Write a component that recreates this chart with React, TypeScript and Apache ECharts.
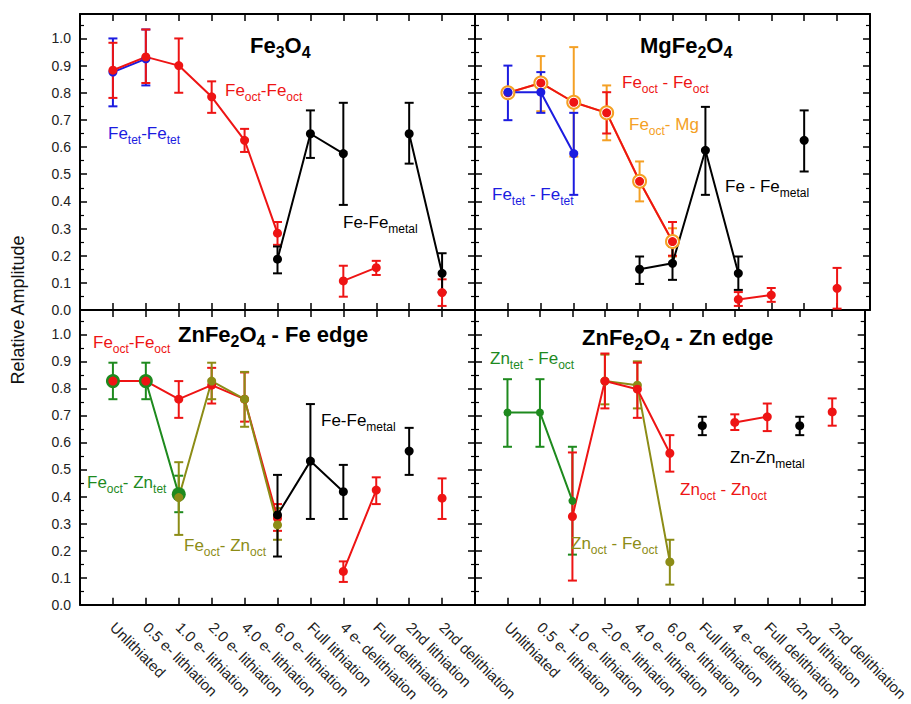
import React, { useEffect, useRef } from 'react';
import * as echarts from 'echarts';

// ---------- data ----------
const categories = [
  'Unlithiated', '0.5 e- lithiation', '1.0 e- lithiation', '2.0 e- lithiation', '4.0 e- lithiation',
  '6.0 e- lithiation', 'Full lithiation', '4 e- delithiation', 'Full delithiation', '2nd lithiation', '2nd delithiation',
];
const yTicks = [0, 0.1, 0.2, 0.3, 0.4, 0.5, 0.6, 0.7, 0.8, 0.9, 1.0];

const N = null;
// Panel 1: Fe3O4
const fe3o4TetVal = [0.876, 0.925, N, N, N, N, N, N, N, N, N];
const fe3o4TetLo = [0.75, 0.827, N, N, N, N, N, N, N, N, N];
const fe3o4TetHi = [1.0, 1.033, N, N, N, N, N, N, N, N, N];
const fe3o4OctVal = [0.883, 0.932, 0.90, 0.785, 0.625, 0.283, N, 0.107, 0.156, N, 0.064];
const fe3o4OctLo = [0.781, 0.836, 0.80, 0.726, 0.582, 0.24, N, 0.049, 0.129, N, 0.015];
const fe3o4OctHi = [0.984, 1.033, 1.0, 0.842, 0.667, 0.324, N, 0.163, 0.181, N, 0.113];
const fe3o4MetVal = [N, N, N, N, N, 0.187, 0.649, 0.576, N, 0.649, 0.135];
const fe3o4MetLo = [N, N, N, N, N, 0.135, 0.56, 0.387, N, 0.539, 0.065];
const fe3o4MetHi = [N, N, N, N, N, 0.234, 0.735, 0.763, N, 0.763, 0.209];

// Panel 2: MgFe2O4
const mgTetVal = [0.802, 0.802, 0.576, N, N, N, N, N, N, N, N];
const mgTetLo = [0.699, 0.726, 0.424, N, N, N, N, N, N, N, N];
const mgTetHi = [0.90, 0.876, 0.726, N, N, N, N, N, N, N, N];
const mgOctVal = [0.80, 0.836, 0.765, 0.726, 0.474, 0.252, N, 0.039, 0.055, N, 0.08];
const mgOctLo = [N, N, N, 0.65, N, 0.20, N, 0.015, 0.03, N, 0.005];
const mgOctHi = [N, N, N, 0.802, N, 0.324, N, 0.066, 0.081, N, 0.155];
const mgMgVal = [0.80, 0.836, 0.765, 0.726, 0.474, 0.252, N, N, N, N, N];
const mgMgLo = [N, 0.732, 0.565, 0.625, 0.40, 0.197, N, N, N, N, N];
const mgMgHi = [N, 0.935, 0.968, 0.827, 0.547, 0.301, N, N, N, N, N];
const mgMetVal = [N, N, N, N, 0.150, 0.172, 0.588, 0.135, N, 0.625, N];
const mgMetLo = [N, N, N, N, 0.096, 0.111, 0.424, 0.074, N, 0.51, N];
const mgMetHi = [N, N, N, N, 0.197, 0.234, 0.748, 0.197, N, 0.735, N];

// Panel 3: ZnFe2O4 - Fe edge
const znFeOctVal = [0.827, 0.827, 0.760, 0.812, 0.760, 0.320, N, 0.123, 0.424, N, 0.394];
const znFeOctLo = [N, N, 0.691, 0.744, 0.677, 0.273, N, 0.084, 0.372, N, 0.317];
const znFeOctHi = [N, N, 0.827, 0.876, 0.859, 0.372, N, 0.160, 0.471, N, 0.467];
const znFeTetVal = [0.827, 0.827, 0.408, N, N, N, N, N, N, N, N];
const znFeTetLo = [0.76, 0.76, 0.342, N, N, N, N, N, N, N, N];
const znFeTetHi = [0.895, 0.895, 0.477, N, N, N, N, N, N, N, N];
const znFeZnOctVal = [N, N, 0.396, 0.827, 0.760, 0.295, N, N, N, N, N];
const znFeZnOctLo = [N, N, 0.258, 0.76, 0.658, 0.24, N, N, N, N, N];
const znFeZnOctHi = [N, N, 0.527, 0.895, 0.861, 0.357, N, N, N, N, N];
const znFeMetVal = [N, N, N, N, N, 0.332, 0.531, 0.418, N, 0.568, N];
const znFeMetLo = [N, N, N, N, N, 0.178, 0.317, 0.317, N, 0.480, N];
const znFeMetHi = [N, N, N, N, N, 0.480, 0.742, 0.517, N, 0.654, N];

// Panel 4: ZnFe2O4 - Zn edge
const znZnTetVal = [0.711, 0.711, 0.384, N, N, N, N, N, N, N, N];
const znZnTetLo = [0.584, 0.584, 0.185, N, N, N, N, N, N, N, N];
const znZnTetHi = [0.834, 0.834, 0.584, N, N, N, N, N, N, N, N];
const znZnFeOctVal = [N, N, N, 0.827, 0.812, 0.158, N, N, N, N, N];
const znZnFeOctLo = [N, N, N, 0.741, 0.726, 0.074, N, N, N, N, N];
const znZnFeOctHi = [N, N, N, 0.925, 0.90, 0.24, N, N, N, N, N];
const znZnOctVal = [N, N, 0.326, 0.827, 0.797, 0.560, N, 0.674, 0.695, N, 0.713];
const znZnOctLo = [N, N, 0.089, 0.726, 0.691, 0.492, N, 0.646, 0.642, N, 0.662];
const znZnOctHi = [N, N, 0.563, 0.929, 0.895, 0.627, N, 0.704, 0.744, N, 0.763];
const znZnMetVal = [N, N, N, N, N, N, 0.662, N, N, 0.662, N];
const znZnMetLo = [N, N, N, N, N, N, 0.627, N, N, 0.627, N];
const znZnMetHi = [N, N, N, N, N, N, 0.695, N, N, 0.695, N];

// ---------- styles ----------
const FONT = "'Liberation Sans', Arial, sans-serif";
const RED = '#ee1414';
const BLUE = '#1c1ce0';
const ORANGE = '#f4a024';
const GREEN = '#1e8a1e';
const OLIVE = '#8c8c16';
const BLACK = '#000000';

type DS = {
  color: string; vals: (number | null)[]; lo: (number | null)[]; hi: (number | null)[];
  size: number; symbol?: string; border?: number;
};

const panels: DS[][] = [
  [
    { color: BLUE, vals: fe3o4TetVal, lo: fe3o4TetLo, hi: fe3o4TetHi, size: 9 },
    { color: RED, vals: fe3o4OctVal, lo: fe3o4OctLo, hi: fe3o4OctHi, size: 9 },
    { color: BLACK, vals: fe3o4MetVal, lo: fe3o4MetLo, hi: fe3o4MetHi, size: 9 },
  ],
  [
    { color: ORANGE, vals: mgMgVal, lo: mgMgLo, hi: mgMgHi, size: 13, symbol: 'emptyCircle', border: 3 },
    { color: RED, vals: mgOctVal, lo: mgOctLo, hi: mgOctHi, size: 9 },
    { color: BLUE, vals: mgTetVal, lo: mgTetLo, hi: mgTetHi, size: 9 },
    { color: BLACK, vals: mgMetVal, lo: mgMetLo, hi: mgMetHi, size: 9 },
  ],
  [
    { color: GREEN, vals: znFeTetVal, lo: znFeTetLo, hi: znFeTetHi, size: 14 },
    { color: RED, vals: znFeOctVal, lo: znFeOctLo, hi: znFeOctHi, size: 9 },
    { color: OLIVE, vals: znFeZnOctVal, lo: znFeZnOctLo, hi: znFeZnOctHi, size: 9 },
    { color: BLACK, vals: znFeMetVal, lo: znFeMetLo, hi: znFeMetHi, size: 9 },
  ],
  [
    { color: GREEN, vals: znZnTetVal, lo: znZnTetLo, hi: znZnTetHi, size: 8 },
    { color: OLIVE, vals: znZnFeOctVal, lo: znZnFeOctLo, hi: znZnFeOctHi, size: 9 },
    { color: RED, vals: znZnOctVal, lo: znZnOctLo, hi: znZnOctHi, size: 9 },
    { color: BLACK, vals: znZnMetVal, lo: znZnMetLo, hi: znZnMetHi, size: 9 },
  ],
];

const grids = [
  { left: 80, top: 14, width: 395, height: 296 },
  { left: 475, top: 14, width: 395, height: 296 },
  { left: 80, top: 310, width: 395, height: 295 },
  { left: 475, top: 310, width: 395, height: 295 },
];

const labelRich = (color: string) => ({
  m: { fontSize: 17, lineHeight: 26, fill: color, fontFamily: FONT },
  s: { fontSize: 12, lineHeight: 8, verticalAlign: 'bottom', fill: color, fontFamily: FONT },
});
const titleRich = {
  m: { fontSize: 22, fontWeight: 'bold', lineHeight: 30, fill: '#000', fontFamily: FONT },
  s: { fontSize: 16, fontWeight: 'bold', lineHeight: 6, verticalAlign: 'bottom', fill: '#000', fontFamily: FONT },
};

const textLabels: { x: number; y: number; text: string; color: string; title?: boolean }[] = [
  { x: 250, y: 45, text: '{m|Fe}{s|3}{m|O}{s|4}', color: '#000', title: true },
  { x: 225, y: 90, text: '{m|Fe}{s|oct}{m|-Fe}{s|oct}', color: RED },
  { x: 108, y: 133, text: '{m|Fe}{s|tet}{m|-Fe}{s|tet}', color: BLUE },
  { x: 343, y: 222, text: '{m|Fe-Fe}{s|metal}', color: BLACK },

  { x: 640, y: 45, text: '{m|MgFe}{s|2}{m|O}{s|4}', color: '#000', title: true },
  { x: 622, y: 82, text: '{m|Fe}{s|oct}{m| - Fe}{s|oct}', color: RED },
  { x: 629, y: 124, text: '{m|Fe}{s|oct}{m|- Mg}', color: ORANGE },
  { x: 492, y: 194, text: '{m|Fe}{s|tet}{m| - Fe}{s|tet}', color: BLUE },
  { x: 725, y: 186, text: '{m|Fe - Fe}{s|metal}', color: BLACK },

  { x: 178, y: 334, text: '{m|ZnFe}{s|2}{m|O}{s|4}{m| - Fe edge}', color: '#000', title: true },
  { x: 93, y: 342, text: '{m|Fe}{s|oct}{m|-Fe}{s|oct}', color: RED },
  { x: 87, y: 482, text: '{m|Fe}{s|oct}{m|- Zn}{s|tet}', color: GREEN },
  { x: 321, y: 420, text: '{m|Fe-Fe}{s|metal}', color: BLACK },
  { x: 184, y: 545, text: '{m|Fe}{s|oct}{m|- Zn}{s|oct}', color: OLIVE },

  { x: 582, y: 337, text: '{m|ZnFe}{s|2}{m|O}{s|4}{m| - Zn edge}', color: '#000', title: true },
  { x: 490, y: 358, text: '{m|Zn}{s|tet}{m| - Fe}{s|oct}', color: GREEN },
  { x: 730, y: 457, text: '{m|Zn-Zn}{s|metal}', color: BLACK },
  { x: 680, y: 489, text: '{m|Zn}{s|oct}{m| - Zn}{s|oct}', color: RED },
  { x: 571, y: 543, text: '{m|Zn}{s|oct}{m| - Fe}{s|oct}', color: OLIVE },
];

function buildOption() {
  const xAxis: any[] = [];
  const yAxis: any[] = [];
  const series: any[] = [];
  const axisLine = { show: true, onZero: false, lineStyle: { color: '#000', width: 2 } };

  grids.forEach((_, g) => {
    const showX = g >= 2;
    const showY = g % 2 === 0;
    xAxis.push({
      gridIndex: g, type: 'value', position: 'bottom', min: -1, max: 11, interval: 1,
      axisLine, splitLine: { show: false },
      axisTick: { show: true, inside: true, length: 7, lineStyle: { color: '#000', width: 1.5 } },
      axisLabel: {
        show: showX, rotate: -45, margin: 20, fontSize: 15, fontFamily: FONT, color: '#222',
        formatter: (v: number) => (Number.isInteger(v) && categories[v] ? categories[v] : ''),
      },
    });
    xAxis.push({
      gridIndex: g, type: 'value', position: 'top', min: -1, max: 11, interval: 1,
      axisLine, splitLine: { show: false },
      axisTick: { show: true, inside: true, length: 7, lineStyle: { color: '#000', width: 1.5 } },
      axisLabel: { show: false },
    });
    const yCommon = {
      gridIndex: g, type: 'value', min: 0, max: 1.09, interval: 0.1,
      axisLine, splitLine: { show: false },
      axisTick: { show: true, inside: true, length: 7, lineStyle: { color: '#000', width: 1.5 } },
      minorTick: { show: true, splitNumber: 2, length: 4, lineStyle: { color: '#000', width: 1.2 } },
      minorSplitLine: { show: false },
    };
    yAxis.push({
      ...yCommon, position: 'left',
      axisLabel: {
        show: showY, margin: 9, fontSize: 14, fontFamily: FONT, color: '#222',
        formatter: (v: number) => {
          const t = yTicks.find((k) => Math.abs(k - v) < 1e-6);
          return t === undefined ? '' : t.toFixed(1);
        },
      },
    });
    yAxis.push({ ...yCommon, position: 'right', axisLabel: { show: false } });

    panels[g].forEach((ds) => {
      const errData: number[][] = [];
      ds.vals.forEach((_, i) => {
        const lo = ds.lo[i];
        const hi = ds.hi[i];
        if (lo != null && hi != null) errData.push([i, lo, hi]);
      });
      const col = ds.color;
      series.push({
        type: 'custom', xAxisIndex: g * 2, yAxisIndex: g * 2, silent: true, clip: false,
        data: errData, encode: { x: 0, y: [1, 2] },
        renderItem: (params: any, api: any) => {
          const x = api.value(0);
          const p1 = api.coord([x, api.value(1)]);
          const p2 = api.coord([x, api.value(2)]);
          const w = 4.5;
          const st = { stroke: col, lineWidth: 2 };
          return {
            type: 'group',
            children: [
              { type: 'line', shape: { x1: p1[0], y1: p1[1], x2: p2[0], y2: p2[1] }, style: st },
              { type: 'line', shape: { x1: p1[0] - w, y1: p1[1], x2: p1[0] + w, y2: p1[1] }, style: st },
              { type: 'line', shape: { x1: p2[0] - w, y1: p2[1], x2: p2[0] + w, y2: p2[1] }, style: st },
            ],
          };
        },
      });
      series.push({
        type: 'line', xAxisIndex: g * 2, yAxisIndex: g * 2, silent: true, connectNulls: false,
        data: ds.vals.map((v, i) => (v == null ? [i, '-'] : [i, v])),
        symbol: ds.symbol || 'circle', symbolSize: ds.size, showSymbol: true,
        lineStyle: { color: col, width: 2 },
        itemStyle: { color: col, borderColor: col, borderWidth: ds.border || 0 },
      });
    });
  });

  const graphic: any[] = textLabels.map((t) => ({
    type: 'text', x: t.x, y: t.y, silent: true, z: 100,
    style: {
      text: t.text, rich: t.title ? titleRich : labelRich(t.color),
      align: 'left', verticalAlign: 'middle', fill: t.color, fontSize: 17, fontFamily: FONT,
    },
  }));
  graphic.push({
    type: 'text', x: 18, y: 310, rotation: Math.PI / 2, silent: true,
    style: {
      text: 'Relative Amplitude', fill: '#111', fontSize: 18, fontFamily: FONT,
      align: 'center', verticalAlign: 'middle',
    },
  });

  return {
    animation: false,
    backgroundColor: '#ffffff',
    grid: grids.map((g) => ({ ...g, containLabel: false })),
    xAxis, yAxis, series, graphic,
  };
}

export default function App() {
  const ref = useRef<HTMLDivElement>(null);
  useEffect(() => {
    document.body.style.margin = '0';
    const chart = echarts.init(ref.current!, undefined, { renderer: 'svg' });
    chart.setOption(buildOption() as any);
    return () => chart.dispose();
  }, []);
  return <div ref={ref} style={{ width: 911, height: 704, overflow: 'hidden' }} />;
}
